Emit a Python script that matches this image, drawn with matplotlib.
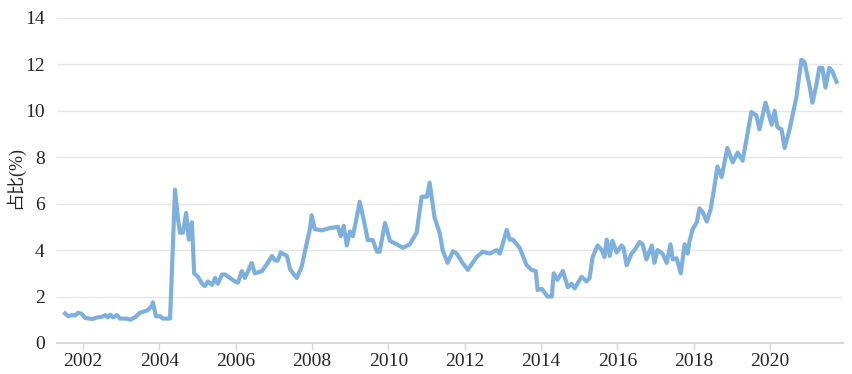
import matplotlib
matplotlib.use("Agg")
import matplotlib.pyplot as plt

plt.rcParams['font.family'] = ['Liberation Serif', 'Noto Sans CJK SC', 'DejaVu Sans']

# date as decimal year, share in %
years = [
    2001.53, 2001.61, 2001.71, 2001.79, 2001.87, 2001.97, 2002.05, 2002.24, 2002.37, 2002.50,
    2002.58, 2002.65, 2002.71, 2002.79, 2002.89, 2002.97, 2003.15, 2003.23, 2003.36, 2003.49,
    2003.68, 2003.81, 2003.83, 2003.91, 2004.02, 2004.09, 2004.28, 2004.41, 2004.49, 2004.54,
    2004.62, 2004.70, 2004.75, 2004.77, 2004.85, 2004.88, 2004.91, 2005.01, 2005.12, 2005.19,
    2005.27, 2005.38, 2005.46, 2005.53, 2005.64, 2005.72, 2005.85, 2005.98, 2006.06, 2006.16,
    2006.24, 2006.42, 2006.50, 2006.69, 2006.82, 2006.95, 2007.03, 2007.10, 2007.18, 2007.34,
    2007.42, 2007.50, 2007.60, 2007.73, 2007.86, 2007.94, 2007.99, 2008.07, 2008.26, 2008.47,
    2008.68, 2008.75, 2008.83, 2008.91, 2008.99, 2009.07, 2009.25, 2009.38, 2009.46, 2009.59,
    2009.70, 2009.77, 2009.91, 2010.04, 2010.22, 2010.38, 2010.56, 2010.74, 2010.87, 2011.01,
    2011.08, 2011.21, 2011.35, 2011.42, 2011.55, 2011.69, 2011.79, 2011.92, 2012.08, 2012.31,
    2012.47, 2012.65, 2012.84, 2012.92, 2013.10, 2013.18, 2013.26, 2013.44, 2013.62, 2013.75,
    2013.86, 2013.91, 2014.02, 2014.17, 2014.28, 2014.33, 2014.43, 2014.57, 2014.70, 2014.80,
    2014.88, 2015.06, 2015.19, 2015.27, 2015.35, 2015.48, 2015.59, 2015.66, 2015.72, 2015.80,
    2015.87, 2015.98, 2016.11, 2016.16, 2016.24, 2016.37, 2016.45, 2016.58, 2016.66, 2016.76,
    2016.90, 2016.97, 2017.05, 2017.18, 2017.29, 2017.39, 2017.45, 2017.55, 2017.66, 2017.76,
    2017.84, 2017.89, 2017.97, 2018.08, 2018.15, 2018.23, 2018.34, 2018.44, 2018.54, 2018.62,
    2018.73, 2018.88, 2019.02, 2019.15, 2019.28, 2019.51, 2019.64, 2019.72, 2019.88, 2020.04,
    2020.12, 2020.19, 2020.30, 2020.38, 2020.51, 2020.69, 2020.82, 2020.90, 2021.03, 2021.11,
    2021.21, 2021.29, 2021.37, 2021.45, 2021.55, 2021.63, 2021.74,
]
share = [
    1.27, 1.15, 1.2, 1.18, 1.3, 1.25, 1.08, 1.03, 1.1, 1.13,
    1.2, 1.1, 1.22, 1.1, 1.2, 1.05, 1.05, 1.0, 1.1, 1.3,
    1.4, 1.6, 1.75, 1.15, 1.15, 1.05, 1.05, 6.6, 5.3, 4.75,
    4.75, 5.6, 4.75, 4.45, 5.2, 4.2, 3.0, 2.85, 2.55, 2.45,
    2.65, 2.5, 2.8, 2.55, 2.95, 2.95, 2.8, 2.65, 2.6, 3.1,
    2.8, 3.45, 3.0, 3.1, 3.4, 3.75, 3.55, 3.55, 3.9, 3.75,
    3.2, 3.0, 2.8, 3.3, 4.3, 4.87, 5.5, 4.9, 4.85, 4.95,
    5.0, 4.6, 5.05, 4.2, 4.8, 4.6, 6.08, 5.1, 4.43, 4.43,
    3.93, 3.93, 5.17, 4.4, 4.25, 4.1, 4.25, 4.75, 6.3, 6.3,
    6.9, 5.4, 4.7, 4.0, 3.45, 3.95, 3.85, 3.5, 3.15, 3.7,
    3.93, 3.85, 4.0, 3.85, 4.87, 4.45, 4.45, 4.1, 3.35, 3.15,
    3.1, 2.28, 2.33, 2.0, 2.0, 3.0, 2.72, 3.1, 2.4, 2.55,
    2.35, 2.85, 2.65, 2.8, 3.7, 4.2, 4.0, 3.7, 4.45, 3.75,
    4.4, 3.9, 4.2, 4.1, 3.35, 3.85, 4.0, 4.35, 4.25, 3.6,
    4.2, 3.45, 4.0, 3.85, 3.45, 4.25, 3.6, 3.65, 3.0, 4.25,
    3.85, 4.4, 4.9, 5.2, 5.8, 5.65, 5.23, 5.75, 6.72, 7.6,
    7.15, 8.4, 7.78, 8.2, 7.85, 9.95, 9.8, 9.2, 10.35, 9.4,
    10.0, 9.3, 9.2, 8.4, 9.2, 10.6, 12.2, 12.1, 11.1, 10.35,
    11.1, 11.85, 11.85, 11.0, 11.85, 11.7, 11.25,
]
xticks = [2002, 2004, 2006, 2008, 2010, 2012, 2014, 2016, 2018, 2020]
yticks = [0, 2, 4, 6, 8, 10, 12, 14]

fig = plt.figure(figsize=(8.52, 3.74), dpi=100)
ax = fig.add_axes([0.067, 0.083, 0.922, 0.869])

ax.plot(years, share, color='#7EB0DE', lw=3, solid_joinstyle='round', zorder=3)

ax.set_xlim(2001.32, 2021.9)
ax.set_ylim(0, 14)
ax.set_xticks(xticks)
ax.set_xticklabels([str(y) for y in xticks])
ax.set_yticks(yticks)
ax.set_yticklabels([str(v) for v in yticks])

ax.grid(axis='y', color='#e6e6e6', lw=1)
ax.set_axisbelow(True)
for s in ['top', 'right', 'left']:
    ax.spines[s].set_visible(False)
ax.spines['bottom'].set_color('#d9d9d9')
ax.spines['bottom'].set_linewidth(1.5)
ax.tick_params(axis='y', length=0, pad=9, labelsize=14, labelcolor='#262626')
ax.tick_params(axis='x', length=5, width=1, color='#d9d9d9', pad=2, labelsize=14, labelcolor='#262626')

ax.set_ylabel('占比(%)', fontsize=13, color='#262626', va='center')
ax.yaxis.set_label_coords(-0.054, 0.51)

fig.savefig('out.png', dpi=100)
